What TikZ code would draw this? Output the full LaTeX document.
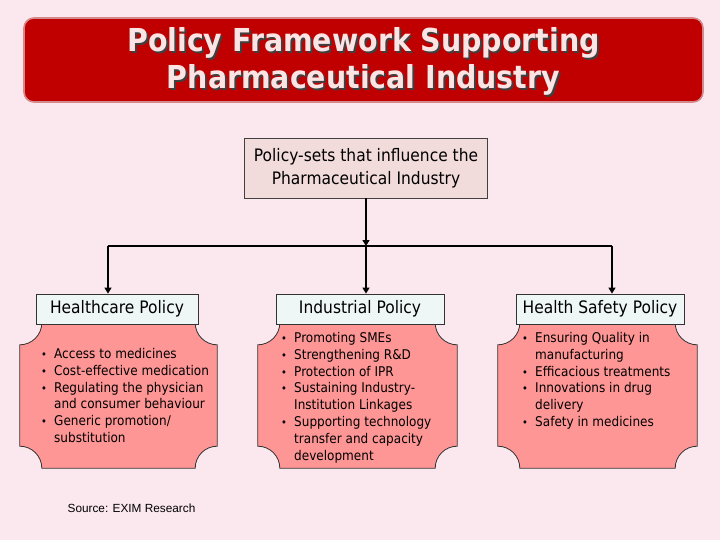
\documentclass[tikz,border=0pt]{standalone}
\usepackage{fontspec}
\setmainfont{DejaVu Sans}[FakeStretch=0.9]
\newfontfamily\srcfont{Liberation Sans}
\usepackage{xcolor}
\usepackage{tikz}
\usetikzlibrary{arrows.meta,backgrounds}
\definecolor{pagebg}{HTML}{FAE8EE}
\definecolor{titlered}{HTML}{C00000}
\definecolor{titleedge}{HTML}{D48A8A}
\definecolor{titletext}{HTML}{FCE4E4}
\definecolor{rootfill}{HTML}{F2DCDB}
\definecolor{headfill}{HTML}{EEF6F6}
\definecolor{bodyfill}{HTML}{FF9696}
\newcommand{\bul}{\makebox[13pt][l]{\fontsize{11}{11}\selectfont\textbullet}}
\newcommand{\ind}{\hspace*{13pt}}
\newcommand{\plaque}[1]{%
  \path[bodyshape]
    ([xshift=22pt]#1.north west) -- ([xshift=-22pt]#1.north east)
    arc[start angle=180,end angle=270,radius=22pt]
    -- ([yshift=22pt]#1.south east)
    arc[start angle=90,end angle=180,radius=22pt]
    -- ([xshift=22pt]#1.south west)
    arc[start angle=0,end angle=90,radius=22pt]
    -- ([yshift=-22pt]#1.north west)
    arc[start angle=270,end angle=360,radius=22pt] -- cycle;}
\tikzset{
  titlebox/.style={
    draw=titleedge,
    line width=1.6pt,
    fill=titlered,
    rounded corners=10pt,
    minimum width=679pt,
    minimum height=84pt
  },
  titletxt/.style={
    align=center,
    font=\fontsize{31.6}{37}\selectfont\bfseries
  },
  rootbox/.style={
    draw=black!75,
    line width=0.8pt,
    fill=rootfill,
    align=center,
    minimum width=243pt,
    minimum height=60pt,
    font=\fontsize{17.2}{23}\selectfont
  },
  headbox/.style={
    draw=black!80,
    line width=0.8pt,
    fill=headfill,
    minimum height=30pt,
    inner sep=0pt,
    font=\fontsize{17.2}{20}\selectfont
  },
  bodybox/.style={
    minimum width=199pt,
    minimum height=145pt,
    inner sep=0pt
  },
  bodyshape/.style={draw=black!80,line width=0.8pt,fill=bodyfill},
  bullets/.style={
    align=left,
    anchor=base west,
    inner sep=0pt,
    font=\fontsize{13.4}{16.8}\selectfont
  },
  link/.style={line width=1.4pt,draw=black},
  flow/.style={link,-{Triangle[length=6pt,width=7pt]}}
}
\begin{document}
\begin{tikzpicture}[x=1pt,y=-1pt]
  \useasboundingbox (0,0) rectangle (720,540);

  \node[titlebox] (titleframe) at (363.5,60) {};
  \node[titletxt,text=black!75] (titleshadow) at (365.5,63.5) {
    Policy Framework Supporting\\Pharmaceutical Industry};
  \node[titletxt,text=titletext] (title) at (363.5,61.5) {
    Policy Framework Supporting\\Pharmaceutical Industry};

  \node[rootbox] (policysets) at (366,168) {
    Policy-sets that influence the\\Pharmaceutical Industry};

  \coordinate (jleft) at (108,246);
  \coordinate (jmid) at (366,246);
  \coordinate (jright) at (612,246);

  % bodies first, headers sit on their top edge
  \node[bodybox,minimum width=197pt] (healthbody) at (118.5,395.5) {};
  \node[bodybox] (industrybody) at (357.5,395.5) {};
  \node[bodybox] (safetybody) at (597.5,395.5) {};
  \begin{pgfonlayer}{background}
    \fill[pagebg] (0,0) rectangle (720,540);
    \plaque{healthbody}
    \plaque{industrybody}
    \plaque{safetybody}
  \end{pgfonlayer}

  \node[headbox,minimum width=162pt] (healthhead) at (117,309) {Healthcare Policy};
  \node[headbox,minimum width=168pt] (industryhead) at (360,309) {Industrial Policy};
  \node[headbox,minimum width=168pt] (safetyhead) at (600,309) {Health Safety Policy};

  \draw[flow] (policysets.south -| jmid) -- (jmid);
  \draw[link] (jleft) -- (jright);
  \draw[flow] (jleft) -- (jleft |- healthhead.north);
  \draw[flow] (jmid) -- (jmid |- industryhead.north);
  \draw[flow] (jright) -- (jright |- safetyhead.north);

  % base anchor = last line of each list
  \node[bullets] (healthlist) at (41,442.5) {
    \bul Access to medicines\\
    \bul Cost-effective medication\\
    \bul Regulating the physician\\
    \ind and consumer behaviour\\
    \bul Generic promotion/\\
    \ind substitution};
  \node[bullets] (industrylist) at (281,460.1) {
    \bul Promoting SMEs\\
    \bul Strengthening R\&D\\
    \bul Protection of IPR\\
    \bul Sustaining Industry-\\
    \ind Institution Linkages\\
    \bul Supporting technology\\
    \ind transfer and capacity\\
    \ind development};
  \node[bullets] (safetylist) at (522,426.5) {
    \bul Ensuring Quality in\\
    \ind manufacturing\\
    \bul Efficacious treatments\\
    \bul Innovations in drug\\
    \ind delivery\\
    \bul Safety in medicines};

  \node[font=\srcfont\fontsize{11.8}{14}\selectfont] (source) at (131.5,508) {Source: EXIM Research};
\end{tikzpicture}
\end{document}
